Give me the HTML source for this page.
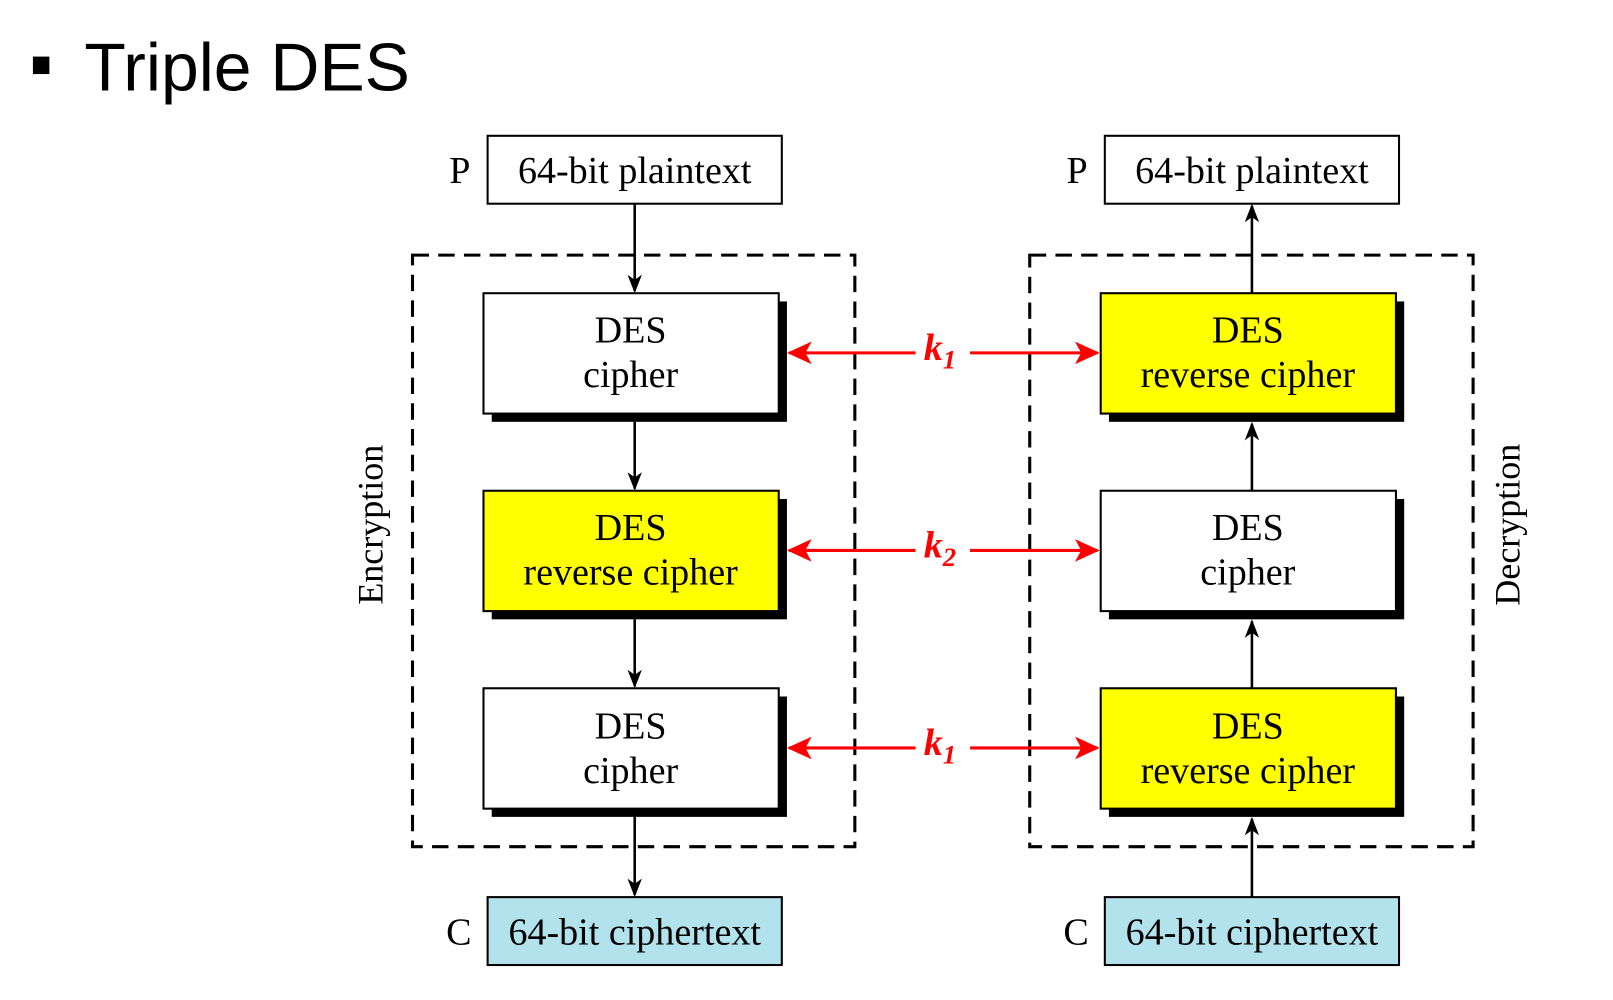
<!DOCTYPE html>
<html><head><meta charset="utf-8"><style>
html,body{margin:0;padding:0;background:#fff;width:1613px;height:1000px;overflow:hidden}
svg{display:block}
</style></head><body>
<svg width="1613" height="1000" viewBox="0 0 1568 972" preserveAspectRatio="none" xmlns="http://www.w3.org/2000/svg">
<defs>
<marker id="ab" markerWidth="18" markerHeight="14" refX="16" refY="7" orient="auto" markerUnits="userSpaceOnUse" viewBox="0 0 18 14"><path d="M0,0 L18,7 L0,14 L5,7 z" fill="#000"/></marker>
<marker id="ar" markerWidth="24" markerHeight="22" refX="22" refY="11" orient="auto" markerUnits="userSpaceOnUse" viewBox="0 0 24 22"><path d="M0,0 L24,11 L0,22 L6,11 z" fill="#f00"/></marker>
</defs>
<rect x="32" y="55" width="16" height="17" fill="#000"/>
<text x="82" y="88" font-family="Liberation Sans, sans-serif" font-size="66" fill="#000">Triple DES</text>
<g font-family="Liberation Serif, serif" font-size="37" fill="#000" text-anchor="middle">
<rect x="474" y="132" width="286" height="66" fill="#fff" stroke="#000" stroke-width="2"/>
<text x="617" y="178">64-bit plaintext</text>
<text x="447" y="178">P</text>
<rect x="1074" y="132" width="286" height="66" fill="#fff" stroke="#000" stroke-width="2"/>
<text x="1217" y="178">64-bit plaintext</text>
<text x="1047" y="178">P</text>
<rect x="474" y="872" width="286" height="66" fill="#b2e2ec" stroke="#000" stroke-width="2"/>
<text x="617" y="918">64-bit ciphertext</text>
<text x="446" y="918">C</text>
<rect x="1074" y="872" width="286" height="66" fill="#b2e2ec" stroke="#000" stroke-width="2"/>
<text x="1217" y="918">64-bit ciphertext</text>
<text x="1046" y="918">C</text>
<rect x="401" y="248" width="430" height="575" fill="none" stroke="#000" stroke-width="3" stroke-dasharray="16,9"/>
<rect x="1001" y="248" width="431" height="575" fill="none" stroke="#000" stroke-width="3" stroke-dasharray="16,9"/>
<text transform="translate(372,510) rotate(-90)" font-size="35">Encryption</text>
<text transform="translate(1477,510) rotate(-90)" font-size="35">Decryption</text>
<g stroke="#000" stroke-width="2.5">
<line x1="617" y1="198" x2="617" y2="283" marker-end="url(#ab)"/>
<line x1="617" y1="410" x2="617" y2="475" marker-end="url(#ab)"/>
<line x1="617" y1="602" x2="617" y2="667" marker-end="url(#ab)"/>
<line x1="617" y1="794" x2="617" y2="870" marker-end="url(#ab)"/>
<line x1="1217" y1="285" x2="1217" y2="200" marker-end="url(#ab)"/>
<line x1="1217" y1="477" x2="1217" y2="412" marker-end="url(#ab)"/>
<line x1="1217" y1="669" x2="1217" y2="604" marker-end="url(#ab)"/>
<line x1="1217" y1="872" x2="1217" y2="796" marker-end="url(#ab)"/>
</g>
<g>
<rect x="478" y="293" width="287" height="117" fill="#000"/>
<rect x="470" y="285" width="287" height="117" fill="#fff" stroke="#000" stroke-width="2"/>
<text x="613" y="333">DES</text><text x="613" y="376">cipher</text>
<rect x="478" y="485" width="287" height="117" fill="#000"/>
<rect x="470" y="477" width="287" height="117" fill="#ffff00" stroke="#000" stroke-width="2"/>
<text x="613" y="525">DES</text><text x="613" y="568">reverse cipher</text>
<rect x="478" y="677" width="287" height="117" fill="#000"/>
<rect x="470" y="669" width="287" height="117" fill="#fff" stroke="#000" stroke-width="2"/>
<text x="613" y="718">DES</text><text x="613" y="761">cipher</text>
<rect x="1078" y="293" width="287" height="117" fill="#000"/>
<rect x="1070" y="285" width="287" height="117" fill="#ffff00" stroke="#000" stroke-width="2"/>
<text x="1213" y="333">DES</text><text x="1213" y="376">reverse cipher</text>
<rect x="1078" y="485" width="287" height="117" fill="#000"/>
<rect x="1070" y="477" width="287" height="117" fill="#fff" stroke="#000" stroke-width="2"/>
<text x="1213" y="525">DES</text><text x="1213" y="568">cipher</text>
<rect x="1078" y="677" width="287" height="117" fill="#000"/>
<rect x="1070" y="669" width="287" height="117" fill="#ffff00" stroke="#000" stroke-width="2"/>
<text x="1213" y="718">DES</text><text x="1213" y="761">reverse cipher</text>
</g>
<g stroke="#f00" stroke-width="3">
<line x1="890" y1="343" x2="767" y2="343" marker-end="url(#ar)"/>
<line x1="943" y1="343" x2="1067" y2="343" marker-end="url(#ar)"/>
<line x1="890" y1="535" x2="767" y2="535" marker-end="url(#ar)"/>
<line x1="943" y1="535" x2="1067" y2="535" marker-end="url(#ar)"/>
<line x1="890" y1="727" x2="767" y2="727" marker-end="url(#ar)"/>
<line x1="943" y1="727" x2="1067" y2="727" marker-end="url(#ar)"/>
</g>
<g fill="#f00" font-style="italic" font-weight="bold" text-anchor="start">
<text x="898" y="350">k<tspan font-size="26" dy="8">1</tspan></text>
<text x="898" y="542">k<tspan font-size="26" dy="8">2</tspan></text>
<text x="898" y="734">k<tspan font-size="26" dy="8">1</tspan></text>
</g>
</g>
</svg>
</body></html>
